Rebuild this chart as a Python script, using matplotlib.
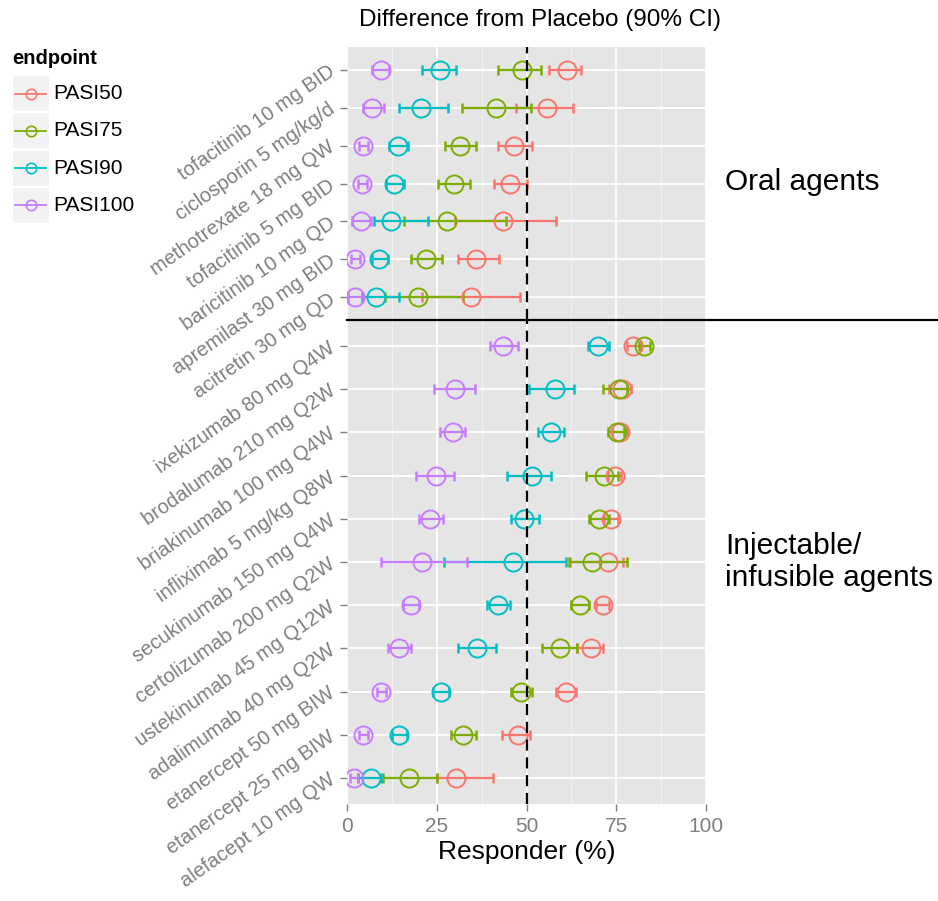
import matplotlib.pyplot as plt
from matplotlib.lines import Line2D
from matplotlib.patches import Rectangle

plt.rcParams['font.family'] = ['Liberation Sans', 'DejaVu Sans']

endpoints = ["PASI50", "PASI75", "PASI90", "PASI100"]
colors = ["#F8766D", "#7CAE00", "#00BFC4", "#C77CFF"]

# oral agents, top to bottom
oral_drugs = ["tofacitinib 10 mg BID", "ciclosporin 5 mg/kg/d", "methotrexate 18 mg QW",
              "tofacitinib 5 mg BID", "baricitinib 10 mg QD", "apremilast 30 mg BID",
              "acitretin 30 mg QD"]
oral_mid = {
    "PASI50":  [61.2, 55.8, 46.6, 45.4, 43.5, 35.9, 34.5],
    "PASI75":  [48.7, 41.5, 31.5, 29.9, 27.8, 21.9, 19.9],
    "PASI90":  [25.9, 20.7, 14.1, 13.2, 12.2, 8.9, 8.1],
    "PASI100": [9.4, 7.1, 4.4, 4.1, 3.8, 2.2, 2.2],
}
oral_lo = {
    "PASI50":  [56.2, 47.1, 42.2, 40.9, 30.0, 31.0, 20.8],
    "PASI75":  [42.0, 31.9, 27.4, 25.3, 16.0, 17.7, 10.6],
    "PASI90":  [21.0, 14.5, 11.8, 10.9, 7.5, 6.9, 4.1],
    "PASI100": [6.9, 4.5, 3.3, 3.2, 1.5, 1.2, 0.4],
}
oral_hi = {
    "PASI50":  [65.1, 62.9, 51.4, 50.2, 58.2, 42.3, 48.2],
    "PASI75":  [53.9, 51.2, 35.9, 34.2, 44.2, 26.6, 32.2],
    "PASI90":  [30.5, 28.2, 16.9, 15.9, 22.6, 11.5, 14.6],
    "PASI100": [11.7, 10.4, 5.9, 5.6, 6.6, 3.5, 4.5],
}

# injectable / infusible agents, top to bottom
inj_drugs = ["ixekizumab 80 mg Q4W", "brodalumab 210 mg Q2W", "briakinumab 100 mg Q4W",
             "infliximab 5 mg/kg Q8W", "secukinumab 150 mg Q4W", "certolizumab 200 mg Q2W",
             "ustekinumab 45 mg Q12W", "adalimumab 40 mg Q2W", "etanercept 50 mg BIW",
             "etanercept 25 mg BIW", "alefacept 10 mg QW"]
inj_mid = {
    "PASI50":  [79.8, 76.5, 76.0, 74.7, 73.5, 72.8, 71.2, 67.9, 60.9, 47.5, 30.4],
    "PASI75":  [82.6, 75.9, 75.1, 71.6, 70.1, 68.2, 64.9, 59.3, 48.5, 32.2, 17.3],
    "PASI90":  [70.0, 57.9, 56.7, 51.4, 49.4, 46.3, 42.2, 36.3, 26.1, 14.5, 6.7],
    "PASI100": [43.5, 30.1, 29.4, 24.7, 23.1, 20.8, 17.7, 14.6, 9.4, 4.5, 1.9],
}
inj_lo = {
    "PASI50":  [78.1, 73.0, 73.7, 72.6, 71.5, 62.0, 69.3, 64.2, 58.2, 43.3, 25.0],
    "PASI75":  [81.2, 71.4, 72.8, 66.6, 67.5, 61.7, 62.3, 54.4, 45.7, 28.9, 10.1],
    "PASI90":  [67.2, 50.8, 53.3, 44.5, 45.6, 27.0, 38.9, 31.0, 23.9, 12.4, 3.1],
    "PASI100": [39.8, 24.1, 25.9, 19.2, 20.1, 9.5, 15.7, 11.5, 8.4, 3.4, 0.8],
}
inj_hi = {
    "PASI50":  [82.0, 79.2, 78.1, 76.3, 75.5, 77.0, 73.1, 71.2, 63.7, 51.0, 40.6],
    "PASI75":  [84.5, 78.1, 77.2, 75.6, 73.1, 77.9, 67.5, 64.2, 51.6, 35.8, 25.0],
    "PASI90":  [73.0, 63.1, 60.5, 56.7, 53.6, 61.0, 45.4, 41.4, 28.5, 16.8, 9.4],
    "PASI100": [47.7, 35.7, 32.9, 29.8, 26.8, 33.3, 20.1, 17.7, 10.9, 5.9, 3.2],
}

W, H = 938, 901
fig = plt.figure(figsize=(W / 100, H / 100), dpi=100)


def fx(px):
    return px / W


def fy(py):
    return 1 - py / H


ax_top = fig.add_axes([fx(347), fy(320), fx(706) - fx(347), fy(47) - fy(320)])
ax_bot = fig.add_axes([fx(347), fy(804), fx(706) - fx(347), fy(320) - fy(804)])


def draw_panel(ax, drugs, mid, lo, hi, show_x):
    ypos = list(range(len(drugs)))
    ax.set_facecolor('#E5E5E5')
    ax.set_xlim(0, 100)
    ax.set_ylim(len(drugs) - 0.4, -0.6)
    ax.set_xticks([0, 25, 50, 75, 100])
    ax.set_xticks([12.5, 37.5, 62.5, 87.5], minor=True)
    ax.set_yticks(ypos)
    ax.set_yticklabels(drugs, rotation=35, ha='right', va='center',
                       rotation_mode='anchor', fontsize=14.5, color='#7F7F7F')
    ax.grid(which='major', color='white', lw=1.3)
    ax.grid(which='minor', axis='x', color='#F2F2F2', lw=0.7)
    ax.set_axisbelow(True)
    for s in ax.spines.values():
        s.set_visible(False)
    ax.tick_params(axis='y', length=5, width=1, color='#7F7F7F', pad=5)
    ax.tick_params(axis='x', which='minor', length=0)
    if show_x:
        ax.tick_params(axis='x', which='major', length=5, width=1, color='#7F7F7F',
                       labelsize=15, labelcolor='#7F7F7F', pad=4)
        ax.set_xlabel("Responder (%)", fontsize=19, labelpad=3)
    else:
        ax.tick_params(axis='x', which='major', length=0, labelbottom=False)

    for ep, col in zip(endpoints, colors):
        err = [[m - l for m, l in zip(mid[ep], lo[ep])],
               [h - m for m, h in zip(mid[ep], hi[ep])]]
        ax.errorbar(mid[ep], ypos, xerr=err, fmt='none', ecolor=col,
                    elinewidth=1.6, capsize=3.5, capthick=1.8)
    for ep, col in zip(endpoints, colors):
        ax.plot(mid[ep], ypos, 'o', ms=13, mfc='none', mec=col, mew=1.4, ls='none')
    ax.axvline(50, color='black', ls=(0, (5, 3)), lw=1.6)


draw_panel(ax_top, oral_drugs, oral_mid, oral_lo, oral_hi, False)
draw_panel(ax_bot, inj_drugs, inj_mid, inj_lo, inj_hi, True)

# separator between the two groups
fig.add_artist(Line2D([fx(347), 1.0], [fy(320), fy(320)], transform=fig.transFigure,
                      color='black', lw=1.6))

fig.text(fx(540), fy(20), "Difference from Placebo (90% CI)", fontsize=17.5,
         ha='center', va='center')
fig.text(fx(725), fy(182), "Oral agents", fontsize=21.5, ha='left', va='center')
fig.text(fx(725), fy(562), "Injectable/\ninfusible agents", fontsize=21.5,
         ha='left', va='center', linespacing=1.15)

# legend
fig.text(fx(12), fy(58), "endpoint", fontsize=14.5, fontweight='bold', ha='left', va='center')
for i, (ep, col) in enumerate(zip(endpoints, colors)):
    top = 76 + i * 37.3
    cy = top + 17.5
    fig.add_artist(Rectangle((fx(12.5), fy(top + 35)), fx(36), fy(top) - fy(top + 35),
                             transform=fig.transFigure, facecolor='#F2F2F2', edgecolor='none'))
    fig.add_artist(Line2D([fx(15), fx(46)], [fy(cy), fy(cy)], transform=fig.transFigure,
                          color=col, lw=1.3))
    fig.add_artist(Line2D([fx(30.5)], [fy(cy)], transform=fig.transFigure, marker='o',
                          ms=7.5, mfc='none', mec=col, mew=1.2))
    fig.text(fx(53), fy(cy), ep, fontsize=15, ha='left', va='center')

fig.savefig("out.png", dpi=100)
